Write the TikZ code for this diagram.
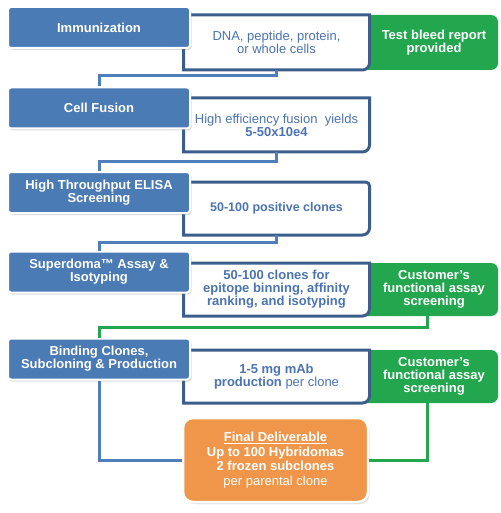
\documentclass[tikz,border=0pt]{standalone}
\usepackage{fontspec}
\setmainfont{Liberation Sans}
\usetikzlibrary{shadows,backgrounds}
\definecolor{stepblue}{RGB}{75,123,181}
\definecolor{lineblue}{RGB}{78,127,186}
\definecolor{infoedge}{RGB}{59,94,140}
\definecolor{infotext}{RGB}{74,116,178}
\definecolor{cgreen}{RGB}{35,167,78}
\definecolor{corange}{RGB}{240,150,74}
\begin{document}
\begin{tikzpicture}[x=1pt,y=1pt,
  stage node/.style={fill=stepblue,draw=white,line width=2pt,rounded corners=3pt,
    minimum width=182pt,minimum height=41pt,text=white,align=center,
    font=\fontsize{13}{13}\selectfont\bfseries,
    drop shadow={shadow xshift=1.5pt,shadow yshift=-2pt,opacity=0.3}},
  info node/.style={minimum width=186pt,minimum height=53pt,inner sep=0pt,outer sep=0pt,
    text=infotext,align=center,font=\fontsize{13}{13}\selectfont},
  check node/.style={minimum width=128pt,minimum height=53pt,inner sep=0pt,outer sep=0pt,
    text=white,align=center,font=\fontsize{13}{13}\selectfont\bfseries},
  final node/.style={fill=corange,draw=white,line width=2.5pt,rounded corners=10pt,
    minimum width=185pt,minimum height=84pt,text=white,align=center,
    font=\fontsize{13}{14.5}\selectfont,
    drop shadow={shadow xshift=1.5pt,shadow yshift=-2pt,opacity=0.3}},
  info edge/.style={fill=white,draw=infoedge,line width=3pt},
  link/.style={draw=lineblue,line width=3pt},
  green link/.style={draw=cgreen,line width=3pt}]
  \useasboundingbox (0,0) rectangle (500,-513);

  % text of the boxes on the right
  \node[info node,minimum height=55pt] at (276.5,-42.5) (info1) {DNA, peptide, protein,\\or whole cells};
  \node[info node,minimum height=54pt] at (276.5,-125) (info2) {High efficiency fusion\ \ yields\\\textbf{5-50x10e4}};
  \node[info node] at (276.5,-208.5) (info3) {\fontsize{12.5}{13}\selectfont\bfseries 50-100 positive clones};
  \node[info node] at (276.5,-289.5) (info4) {\textbf{50-100 clones for}\\\textbf{epitope binning, affinity}\\\textbf{ranking, and isotyping}};
  \node[info node] at (276.5,-376.5) (info5) {\textbf{1-5 mg mAb}\\\textbf{production} per clone};

  \node[check node,minimum height=55pt] at (434,-42.5) (green1) {Test bleed report\\provided};
  \node[check node] at (434,-289.5) (green4) {Customer’s\\functional assay\\screening};
  \node[check node] at (434,-376.5) (green5) {Customer’s\\functional assay\\screening};

  % the steps
  \node[stage node] at (99,-27.5) (immun) {Immunization};
  \node[stage node] at (99,-108) (fusion) {Cell Fusion};
  \node[stage node] at (99,-192.5) (elisa) {High Throughput ELISA\\Screening};
  \node[stage node] at (99,-272) (superdoma) {Superdoma™ Assay \&\\Isotyping};
  \node[stage node] at (99,-359) (binding) {Binding Clones,\\Subcloning \& Production};

  \node[final node] at (275.5,-460) (final) {\textbf{\underline{Final Deliverable}}\\\textbf{Up to 100 Hybridomas}\\\textbf{2 frozen subclones}\\per parental clone};

  \begin{scope}[on background layer]
    \foreach \g in {green1,green4,green5}
      \fill[cgreen,rounded corners=7pt] ([xshift=-30pt]\g.north west) rectangle (\g.south east);
    \foreach \i in {info1,info2,info4,info5}
      \filldraw[info edge] (\i.north west) -- (\i.south west) -- ([xshift=-7pt]\i.south east)
        arc[start angle=-90,end angle=0,radius=7pt] -- (\i.north east) -- cycle;
    \filldraw[info edge] (info3.north west) -- (info3.south west) -- ([xshift=-7pt]info3.south east)
      arc[start angle=-90,end angle=0,radius=7pt] -- ([yshift=-4pt]info3.north east)
      arc[start angle=0,end angle=90,radius=4pt] -- cycle;
  \end{scope}

  \coordinate (bend1) at (0,-76);
  \coordinate (bend2) at (0,-161);
  \coordinate (bend3) at (0,-242);
  \coordinate (bend4) at (0,-327);
  \coordinate (gdrop4) at ([xshift=-7pt]green4.south);
  \coordinate (gdrop5) at ([xshift=-7pt]green5.south);

  \draw[link] (info1.south) -- (info1.south |- bend1) -| (fusion.north);
  \draw[link] (info2.south) -- (info2.south |- bend2) -| (elisa.north);
  \draw[link] (info3.south) -- (info3.south |- bend3) -| (superdoma.north);
  \draw[green link] (gdrop4) -- (gdrop4 |- bend4) -| (binding.north);
  \draw[link] (binding.south) |- (final.west);
  \draw[green link] (gdrop5) |- (final.east);
\end{tikzpicture}
\end{document}
